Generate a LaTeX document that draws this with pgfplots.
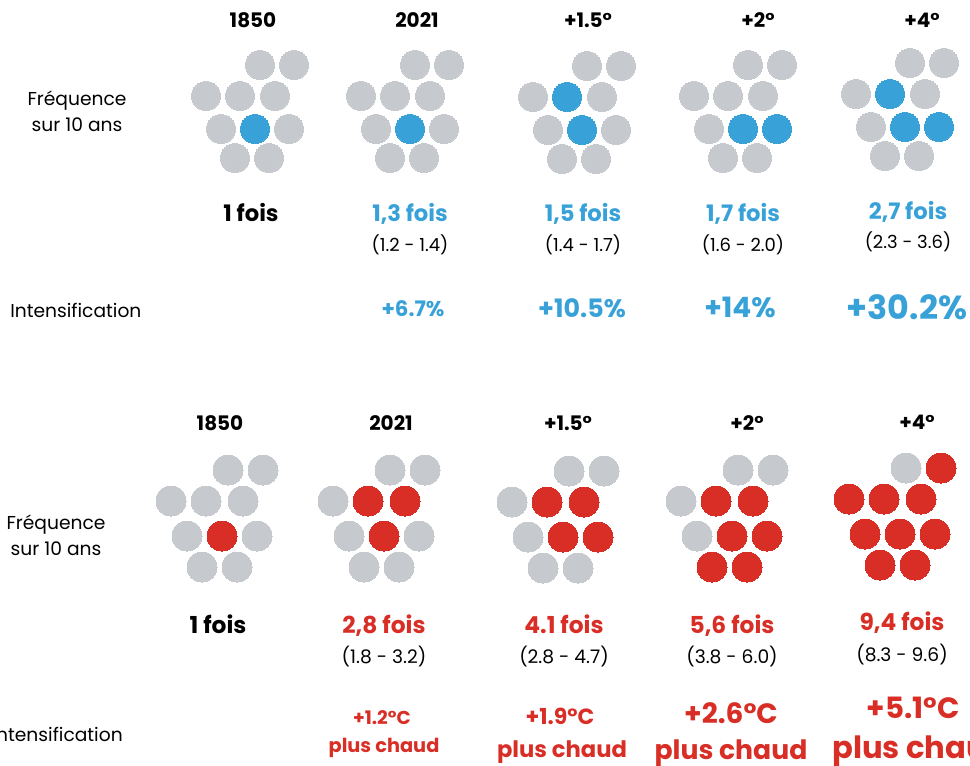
\documentclass[border=0pt]{standalone}
\usepackage{fontspec}
\setmainfont{Poppins}
\usepackage{pgfplots}
\pgfplotsset{compat=1.18}
\definecolor{cblue}{HTML}{38A1D8}
\definecolor{cred}{HTML}{D82E26}
\definecolor{cgray}{HTML}{C6CACE}
\newcommand{\fs}[1]{\fontsize{#1}{#1}\selectfont}
\tikzset{lab/.style={anchor=base, inner sep=0pt}}
\pgfplotsset{dots/.style 2 args={only marks, mark=*, color=#1, line width=0pt,
                        mark size=#2, mark options={fill=#1, draw=#1}}}

\begin{document}
\begin{tikzpicture}
\begin{axis}[
    scale only axis, width=727.5pt, height=574.5pt,
    xmin=0, xmax=970, ymin=0, ymax=766, y dir=reverse,
    hide axis, clip=false,
]
% top panel: 10 circles per period, coloured = occurrences
\addplot[dots={cgray}{10.9pt}] coordinates {
  (260,65)(294,65)(206,96)(240,96)(275,96)(221,129)(289,129)(235,158)(269,158)
  (415,65)(449,65)(361,96)(395,96)(430,96)(376,129)(444,129)(390,158)(424,158)
  (587,66)(621,66)(533,97)(602,97)(548,130)(616,130)(562,159)(596,159)
  (748,65)(782,65)(694,96)(728,96)(763,96)(709,129)(723,158)(757,158)
  (910,63)(944,63)(856,94)(925,94)(871,127)(885,156)(919,156)};
\addplot[dots={cblue}{10.9pt}] coordinates {
  (255,129)(410,129)(567,97)(582,130)(743,129)(777,129)(890,94)(905,127)(939,127)};
% bottom panel
\addplot[dots={cgray}{11.25pt}] coordinates {
  (228,470)(263,470)(171,501)(206,501)(243,501)(187,536)(257,536)(202,567)(237,567)
  (390,470)(425,470)(333,501)(349,536)(419,536)(364,567)(399,567)
  (569,471)(604,471)(512,502)(528,537)(543,568)(578,568)
  (738,470)(773,470)(681,501)(697,536)
  (906,468)};
\addplot[dots={cred}{11.25pt}] coordinates {
  (222,536)(368,501)(405,501)(384,536)(547,502)(584,502)(563,537)(598,537)
  (716,501)(753,501)(732,536)(767,536)(712,567)(747,567)
  (941,468)(849,499)(884,499)(921,499)(865,534)(900,534)(935,534)(880,565)(915,565)};

% ---- top texts
\node[lab, font=\bfseries\fs{15}] at (axis cs:253,28) {1850};
\node[lab, font=\bfseries\fs{15}] at (axis cs:417,28) {2021};
\node[lab, font=\bfseries\fs{15}] at (axis cs:588,28) {+1.5°};
\node[lab, font=\bfseries\fs{15}] at (axis cs:758,28) {+2°};
\node[lab, font=\bfseries\fs{15}] at (axis cs:922,28) {+4°};
\node[lab, font=\fs{14}] at (axis cs:77,106) {Fréquence};
\node[lab, font=\fs{14}] at (axis cs:77,132) {sur 10 ans};
\node[lab, font=\fs{14}, anchor=base west] at (axis cs:10,318) {Intensification};
\node[lab, font=\bfseries\fs{17}] at (axis cs:251,222) {1 fois};
\node[lab, font=\bfseries\fs{17}, text=cblue] at (axis cs:410,222) {1,3 fois};
\node[lab, font=\bfseries\fs{17}, text=cblue] at (axis cs:583,222) {1,5 fois};
\node[lab, font=\bfseries\fs{17}, text=cblue] at (axis cs:743,222) {1,7 fois};
\node[lab, font=\bfseries\fs{17}, text=cblue] at (axis cs:908,220) {2,7 fois};
\node[lab, font=\fs{13.5}] at (axis cs:410,252) {(1.2 - 1.4)};
\node[lab, font=\fs{13.5}] at (axis cs:583,252) {(1.4 - 1.7)};
\node[lab, font=\fs{13.5}] at (axis cs:743,252) {(1.6 - 2.0)};
\node[lab, font=\fs{13.5}] at (axis cs:908,249) {(2.3 - 3.6)};
\node[lab, font=\bfseries\fs{16}, text=cblue] at (axis cs:413,317) {+6.7\%};
\node[lab, font=\bfseries\fs{19}, text=cblue] at (axis cs:582,318) {+10.5\%};
\node[lab, font=\bfseries\fs{21}, text=cblue] at (axis cs:740,318) {+14\%};
\node[lab, font=\bfseries\fs{25}, text=cblue] at (axis cs:907,320) {+30.2\%};

% ---- bottom texts
\node[lab, font=\bfseries\fs{15}] at (axis cs:220,430) {1850};
\node[lab, font=\bfseries\fs{15}] at (axis cs:391,430) {2021};
\node[lab, font=\bfseries\fs{15}] at (axis cs:568,430) {+1.5°};
\node[lab, font=\bfseries\fs{15}] at (axis cs:747,430) {+2°};
\node[lab, font=\bfseries\fs{15}] at (axis cs:917,429) {+4°};
\node[lab, font=\fs{14}] at (axis cs:56,529) {Fréquence};
\node[lab, font=\fs{14}] at (axis cs:56,555) {sur 10 ans};
\node[lab, font=\fs{14}, anchor=base east] at (axis cs:123,741) {Intensification};
\node[lab, font=\bfseries\fs{17.5}] at (axis cs:218,633) {1 fois};
\node[lab, font=\bfseries\fs{17.5}, text=cred] at (axis cs:384,633) {2,8 fois};
\node[lab, font=\bfseries\fs{17.5}, text=cred] at (axis cs:564,633) {4.1 fois};
\node[lab, font=\bfseries\fs{17.5}, text=cred] at (axis cs:732,633) {5,6 fois};
\node[lab, font=\bfseries\fs{17.5}, text=cred] at (axis cs:902,630) {9,4 fois};
\node[lab, font=\fs{14}] at (axis cs:384,663) {(1.8 - 3.2)};
\node[lab, font=\fs{14}] at (axis cs:564,663) {(2.8 - 4.7)};
\node[lab, font=\fs{14}] at (axis cs:732,663) {(3.8 - 6.0)};
\node[lab, font=\fs{14}] at (axis cs:902,661) {(8.3 - 9.6)};
\node[lab, font=\bfseries\fs{14}, text=cred] at (axis cs:382,724) {+1.2°C};
\node[lab, font=\bfseries\fs{14.5}, text=cred] at (axis cs:384,752) {plus chaud};
\node[lab, font=\bfseries\fs{16.5}, text=cred] at (axis cs:560,724) {+1.9°C};
\node[lab, font=\bfseries\fs{17}, text=cred] at (axis cs:562,757) {plus chaud};
\node[lab, font=\bfseries\fs{21}, text=cred] at (axis cs:731,723) {+2.6°C};
\node[lab, font=\bfseries\fs{20}, text=cred] at (axis cs:731,759) {plus chaud};
\node[lab, font=\bfseries\fs{22}, text=cred] at (axis cs:913,718) {+5.1°C};
\node[lab, font=\bfseries\fs{23}, text=cred, anchor=base west] at (axis cs:832,758) {plus chaud};

\coordinate (tl) at (axis cs:0,0);
\coordinate (br) at (axis cs:970,766);
\end{axis}
\pgfresetboundingbox
\useasboundingbox (tl) rectangle (br);
\end{tikzpicture}
\end{document}
